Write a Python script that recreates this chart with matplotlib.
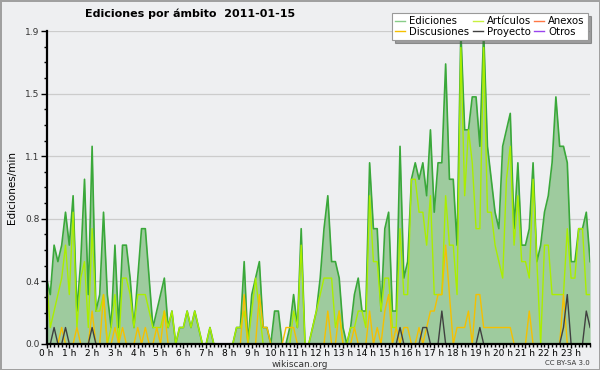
import numpy as np
import matplotlib
matplotlib.use("Agg")
import matplotlib.pyplot as plt
from matplotlib.ticker import FixedLocator, MultipleLocator
from matplotlib.lines import Line2D

# Ediciones por minuto, cada 10 minutos (144 valores)
ediciones = [0.4, 0.3, 0.6, 0.5, 0.6, 0.8, 0.6, 0.9, 0.2, 0.5,
             1.0, 0.3, 1.2, 0.2, 0.3, 0.8, 0.3, 0.1, 0.6, 0.1,
             0.6, 0.6, 0.4, 0.1, 0.4, 0.7, 0.7, 0.4, 0.1, 0.2,
             0.3, 0.4, 0.1, 0.2, 0.0, 0.1, 0.1, 0.2, 0.1, 0.2,
             0.1, 0.0, 0.0, 0.1, 0.0, 0.0, 0.0, 0.0, 0.0, 0.0,
             0.1, 0.1, 0.5, 0.0, 0.3, 0.4, 0.5, 0.1, 0.1, 0.0,
             0.2, 0.2, 0.0, 0.0, 0.1, 0.3, 0.1, 0.7, 0.0, 0.0,
             0.1, 0.2, 0.4, 0.7, 0.9, 0.5, 0.5, 0.4, 0.1, 0.0,
             0.1, 0.3, 0.4, 0.2, 0.2, 1.1, 0.7, 0.7, 0.2, 0.7,
             0.8, 0.2, 0.2, 1.2, 0.4, 0.5, 1.0, 1.1, 1.0, 1.1,
             0.9, 1.3, 0.8, 1.1, 1.1, 1.7, 1.0, 1.0, 0.6, 1.9,
             1.3, 1.3, 1.5, 1.5, 1.2, 1.9, 1.2, 1.0, 0.8, 0.7,
             1.2, 1.3, 1.4, 0.7, 1.1, 0.6, 0.6, 0.7, 1.1, 0.5,
             0.6, 0.8, 0.9, 1.1, 1.5, 1.2, 1.2, 1.1, 0.5, 0.5,
             0.7, 0.7, 0.8, 0.5]

articulos = [0.4, 0.1, 0.2, 0.3, 0.4, 0.6, 0.3, 0.8, 0.1, 0.4,
             0.5, 0.1, 0.7, 0.2, 0.2, 0.3, 0.0, 0.1, 0.3, 0.0,
             0.4, 0.4, 0.3, 0.1, 0.3, 0.3, 0.3, 0.2, 0.1, 0.1,
             0.1, 0.2, 0.1, 0.2, 0.0, 0.1, 0.1, 0.2, 0.1, 0.2,
             0.1, 0.0, 0.0, 0.1, 0.0, 0.0, 0.0, 0.0, 0.0, 0.0,
             0.1, 0.1, 0.2, 0.0, 0.2, 0.4, 0.2, 0.0, 0.0, 0.0,
             0.0, 0.0, 0.0, 0.0, 0.0, 0.2, 0.1, 0.6, 0.0, 0.0,
             0.1, 0.2, 0.3, 0.4, 0.4, 0.4, 0.1, 0.2, 0.0, 0.0,
             0.1, 0.1, 0.2, 0.2, 0.1, 0.9, 0.5, 0.5, 0.2, 0.4,
             0.4, 0.1, 0.1, 0.7, 0.3, 0.3, 1.0, 1.0, 0.8, 0.8,
             0.6, 0.9, 0.3, 0.3, 0.3, 0.9, 0.6, 0.6, 0.3, 1.8,
             0.9, 1.3, 1.1, 0.7, 0.7, 1.8, 0.8, 0.8, 0.6, 0.5,
             0.4, 1.0, 1.2, 0.6, 0.9, 0.5, 0.5, 0.4, 1.0, 0.5,
             0.0, 0.6, 0.6, 0.3, 0.3, 0.3, 0.3, 0.7, 0.4, 0.4,
             0.7, 0.7, 0.3, 0.3]

discusiones = [0.0, 0.0, 0.0, 0.0, 0.1, 0.0, 0.0, 0.0, 0.1, 0.0,
               0.0, 0.0, 0.2, 0.0, 0.0, 0.3, 0.0, 0.0, 0.1, 0.0,
               0.1, 0.0, 0.0, 0.0, 0.1, 0.0, 0.1, 0.0, 0.0, 0.1,
               0.0, 0.2, 0.0, 0.0, 0.0, 0.0, 0.0, 0.0, 0.0, 0.0,
               0.0, 0.0, 0.0, 0.0, 0.0, 0.0, 0.0, 0.0, 0.0, 0.0,
               0.0, 0.0, 0.3, 0.0, 0.0, 0.0, 0.3, 0.1, 0.1, 0.0,
               0.0, 0.0, 0.0, 0.1, 0.1, 0.1, 0.0, 0.0, 0.0, 0.0,
               0.0, 0.0, 0.0, 0.0, 0.2, 0.0, 0.0, 0.2, 0.0, 0.0,
               0.0, 0.1, 0.0, 0.0, 0.0, 0.2, 0.0, 0.1, 0.0, 0.2,
               0.3, 0.0, 0.1, 0.0, 0.1, 0.1, 0.0, 0.0, 0.1, 0.0,
               0.1, 0.2, 0.2, 0.3, 0.3, 0.6, 0.3, 0.0, 0.1, 0.1,
               0.1, 0.2, 0.0, 0.3, 0.3, 0.1, 0.1, 0.1, 0.1, 0.1,
               0.1, 0.1, 0.1, 0.0, 0.0, 0.0, 0.0, 0.2, 0.0, 0.0,
               0.0, 0.0, 0.0, 0.0, 0.0, 0.0, 0.3, 0.0, 0.0, 0.0,
               0.0, 0.0, 0.0, 0.0]

proyecto = [0.0, 0.0, 0.1, 0.0, 0.0, 0.1, 0.0, 0.0, 0.0, 0.0,
            0.0, 0.0, 0.1, 0.0, 0.0, 0.0, 0.0, 0.0, 0.0, 0.0,
            0.0, 0.0, 0.0, 0.0, 0.0, 0.0, 0.0, 0.0, 0.0, 0.0,
            0.0, 0.0, 0.0, 0.0, 0.0, 0.0, 0.0, 0.0, 0.0, 0.0,
            0.0, 0.0, 0.0, 0.0, 0.0, 0.0, 0.0, 0.0, 0.0, 0.0,
            0.0, 0.0, 0.0, 0.0, 0.0, 0.0, 0.0, 0.0, 0.0, 0.0,
            0.0, 0.0, 0.0, 0.0, 0.0, 0.0, 0.0, 0.0, 0.0, 0.0,
            0.0, 0.0, 0.0, 0.0, 0.0, 0.0, 0.0, 0.0, 0.0, 0.0,
            0.0, 0.0, 0.0, 0.0, 0.0, 0.0, 0.0, 0.0, 0.0, 0.0,
            0.0, 0.0, 0.0, 0.1, 0.0, 0.0, 0.0, 0.0, 0.0, 0.1,
            0.1, 0.0, 0.0, 0.0, 0.2, 0.0, 0.0, 0.0, 0.0, 0.0,
            0.0, 0.0, 0.0, 0.0, 0.1, 0.0, 0.0, 0.0, 0.0, 0.0,
            0.0, 0.0, 0.0, 0.0, 0.0, 0.0, 0.0, 0.0, 0.0, 0.0,
            0.0, 0.0, 0.0, 0.0, 0.0, 0.0, 0.1, 0.3, 0.0, 0.0,
            0.0, 0.0, 0.2, 0.1]

anexos = [0.0] * 144
otros = [0.0] * 144

horas = [f"{h} h" for h in range(24)]
y_max = 1.9

bg = "#eeeff1"
fig = plt.figure(figsize=(6, 3.7), dpi=100, facecolor=bg,
                 edgecolor="#a0a0a0", linewidth=2)
ax = fig.add_axes([0.0775, 0.0703, 0.906, 0.8459])
ax.set_facecolor(bg)

x = np.arange(len(ediciones))

ax.fill_between(x, 0, ediciones, color="#9ecb9e", lw=0, zorder=1)
ax.plot(x, anexos, color="#ff7744", lw=1, zorder=2)
ax.plot(x, otros, color="#9944ee", lw=1, zorder=2)
ax.plot(x, ediciones, color="#3aa83a", lw=1.2, zorder=3)
ax.plot(x, articulos, color="#aaee00", lw=1, zorder=4)
ax.plot(x, discusiones, color="#f5c000", lw=1, zorder=5)
ax.plot(x, proyecto, color="#404040", lw=1, zorder=6)

ax.set_xlim(0, len(x) - 1)
ax.set_ylim(0, y_max)

# eje y: 5 divisiones iguales, etiquetas redondeadas
yt = np.linspace(0, y_max, 6)
ax.yaxis.set_major_locator(FixedLocator(yt))
ax.set_yticklabels([f"{v:.1f}" for v in yt])
ax.yaxis.set_minor_locator(FixedLocator(np.linspace(0, y_max, 21)))
ax.grid(axis="y", color="#cccccc", lw=0.9)
ax.set_axisbelow(True)

# eje x: una marca por hora, submarcas cada 10 minutos
ax.set_xticks(np.arange(0, 144, 6))
ax.set_xticklabels(horas)
ax.xaxis.set_minor_locator(MultipleLocator(1))

ax.tick_params(axis="y", which="major", labelsize=6.5, labelcolor="#333333",
               direction="out", length=4, width=1, pad=1)
ax.tick_params(axis="y", which="minor", direction="out", length=2.5, width=1)
ax.tick_params(axis="x", which="major", labelsize=6.5, direction="out",
               length=3, width=1, pad=0.5)
ax.tick_params(axis="x", which="minor", direction="out", length=2.5, width=1)

for s in ["top", "right"]:
    ax.spines[s].set_visible(False)
for s in ["left", "bottom"]:
    ax.spines[s].set_linewidth(1.6)
    ax.spines[s].set_zorder(10)

ax.set_ylabel("Ediciones/min", fontsize=7.5, labelpad=6)

fig.text(0.142, 0.962, "Ediciones por ámbito  2011-01-15", fontsize=8,
         fontweight="bold", ha="left", va="center")
fig.text(0.5, 0.016, "wikiscan.org", fontsize=6.5, ha="center", va="center",
         color="#333333")
fig.text(0.983, 0.018, "CC BY-SA 3.0", fontsize=5, ha="right", va="center",
         color="#333333")

# leyenda con sombra
handles = [Line2D([], [], color="#88cc88", lw=1),
           Line2D([], [], color="#f5c000", lw=1),
           Line2D([], [], color="#c8f040", lw=1),
           Line2D([], [], color="#404040", lw=1),
           Line2D([], [], color="#ff7744", lw=1),
           Line2D([], [], color="#9944ee", lw=1)]
labels = ["Ediciones", "Discusiones", "Artículos", "Proyecto", "Anexos", "Otros"]
leg = fig.legend(handles, labels, ncol=3, loc="upper right",
                 bbox_to_anchor=(0.988, 0.978), fontsize=7.3, frameon=True,
                 fancybox=False, shadow=True, edgecolor="#999999",
                 framealpha=1, handlelength=1.0, handletextpad=0.4,
                 columnspacing=0.3, labelspacing=0.05, borderpad=0.3)
leg.get_frame().set_linewidth(0.8)

fig.savefig("out.png", dpi=100, facecolor=bg, edgecolor="#a0a0a0")
